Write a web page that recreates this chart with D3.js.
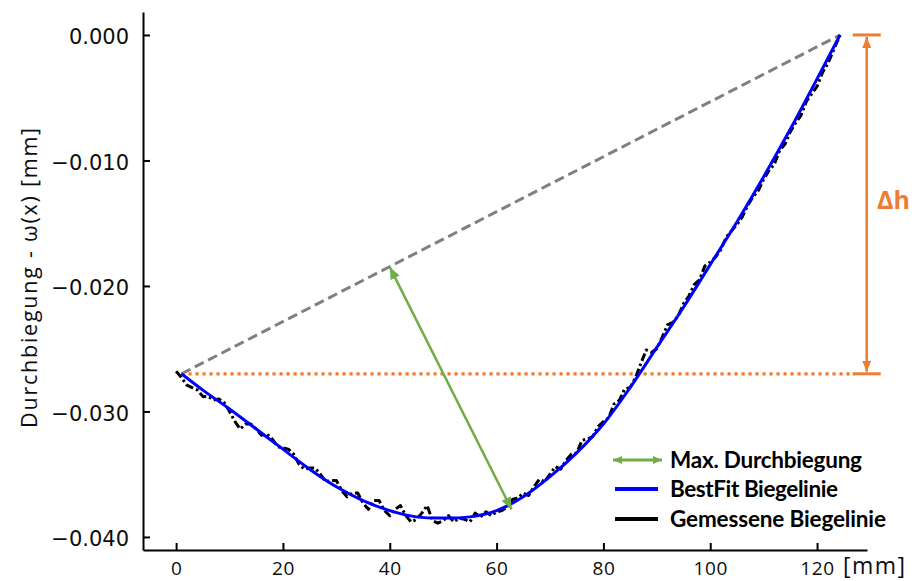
<!DOCTYPE html>
<html>
<head>
<meta charset="utf-8">
<script src="https://cdn.jsdelivr.net/npm/d3@7"></script>
<style>
  html, body { margin: 0; padding: 0; background: #fff; }
  svg { display: block; }
</style>
</head>
<body>
<svg id="chart" width="914" height="581"></svg>
<script>
// ---- data ----
const xTicks = [0, 20, 40, 60, 80, 100, 120];
const yTicks = [0, -0.01, -0.02, -0.03, -0.04];

// fitted deflection curve (mm, mm)
const bestFitX = [1, 5, 10, 15, 20, 25, 30, 35, 40, 45, 50, 55, 60, 65, 70, 75, 80, 85, 90, 95, 100, 105, 110, 115, 120, 124.3];
const bestFitY = [-0.0270, -0.0283, -0.0298, -0.0314, -0.0330, -0.0346, -0.0360, -0.0371, -0.0379, -0.0384, -0.0385, -0.0384, -0.0379, -0.0368, -0.0352, -0.0333, -0.0310, -0.0281, -0.0249, -0.0217, -0.0183, -0.0149, -0.0113, -0.0075, -0.0035, 0.0000];

// measured deflection line
const measuredX = [0,1,2,3,4,5,6,7,8,9,10,11,12,13,14,15,16,17,18,19,20,21,22,23,24,25,26,27,28,29,30,31,32,33,34,35,36,37,38,39,40,41,42,43,44,45,46,47,48,49,50,51,52,53,54,55,56,57,58,59,60,61,62,63,64,65,66,67,68,69,70,71,72,73,74,75,76,77,78,79,80,81,82,83,84,85,86,87,88,89,90,91,92,93,94,95,96,97,98,99,100,101,102,103,104,105,106,107,108,109,110,111,112,113,114,115,116,117,118,119,120,121,122,123,124,124.3];
const measuredY = [
  -0.0268, -0.0273, -0.0279, -0.0281, -0.0283, -0.0288, -0.0288, -0.0291, -0.0290, -0.0293,
  -0.0300, -0.0308, -0.0314, -0.0310, -0.0310, -0.0314, -0.0319, -0.0318, -0.0322, -0.0328,
  -0.0329, -0.0330, -0.0334, -0.0342, -0.0346, -0.0345, -0.0345, -0.0350, -0.0356, -0.0355,
  -0.0355, -0.0363, -0.0368, -0.0365, -0.0365, -0.0373, -0.0378, -0.0371, -0.0371, -0.0379,
  -0.0383, -0.0378, -0.0375, -0.0383, -0.0388, -0.0386, -0.0381, -0.0375, -0.0387, -0.0389,
  -0.0387, -0.0383, -0.0388, -0.0385, -0.0386, -0.0388, -0.0381, -0.0384, -0.0380, -0.0383,
  -0.0380, -0.0379, -0.0376, -0.0370, -0.0369, -0.0365, -0.0367, -0.0360, -0.0354, -0.0356,
  -0.0350, -0.0344, -0.0346, -0.0339, -0.0334, -0.0333, -0.0323, -0.0322, -0.0320, -0.0312,
  -0.0308, -0.0305, -0.0294, -0.0291, -0.0282, -0.0281, -0.0273, -0.0262, -0.0251, -0.0253,
  -0.0250, -0.0241, -0.0231, -0.0229, -0.0224, -0.0214, -0.0208, -0.0199, -0.0195, -0.0184,
  -0.0181, -0.0177, -0.0171, -0.0161, -0.0156, -0.0151, -0.0145, -0.0136, -0.0129, -0.0124,
  -0.0115, -0.0108, -0.0103, -0.0092, -0.0087, -0.0077, -0.0070, -0.0064, -0.0053, -0.0047,
  -0.0041, -0.0030, -0.0023, -0.0013, -0.0003, 0.0000
];

// support points (chord) and the max. deflection arrow
const chordStart = [1.0, -0.0270];
const chordEnd = [124.3, 0.0];
const maxDeflection = [[40.0, -0.0185], [62.8, -0.0378]];
const deltaX = 129.3;

const legendLabels = ["Max. Durchbiegung", "BestFit Biegelinie", "Gemessene Biegelinie"];
const xUnit = "[mm]";
const yTitle = "Durchbiegung - \u03c9(x) [mm]";
const deltaLabel = "\u0394h";

// ---- layout ----
const svg = d3.select("#chart");
const plotLeft = 143, plotRight = 867, plotTop = 12, plotBottom = 550;

const x = d3.scaleLinear().domain([-6.2, 129.35]).range([plotLeft, plotRight]);
const y = d3.scaleLinear().domain([-0.04104, 0.00183]).range([plotBottom, plotTop]);

const C = {
  blue: "#0000ff",
  black: "#000000",
  green: "#70ad47",
  orange: "#ed7d31",
  grey: "#808080",
  text: "#0d0d0d"
};

// arrow heads
const defs = svg.append("defs");
function head(id, color, len, wid) {
  defs.append("marker")
    .attr("id", id)
    .attr("markerUnits", "userSpaceOnUse")
    .attr("viewBox", `0 0 ${len} ${wid}`)
    .attr("refX", len).attr("refY", wid / 2)
    .attr("markerWidth", len).attr("markerHeight", wid)
    .attr("orient", "auto-start-reverse")
    .append("path")
    .attr("d", `M0,0 L${len},${wid / 2} L0,${wid} Z`)
    .attr("fill", color);
}
head("headGreen", C.green, 12, 10);
head("headOrange", C.orange, 11, 9);
head("headGreenSmall", C.green, 9, 8);

// ---- axes ----
const yAxis = d3.axisLeft(y)
  .tickValues(yTicks)
  .tickFormat(d3.format(".3f"))
  .tickSize(-7).tickSizeOuter(0).tickPadding(14);
const gy = svg.append("g").attr("transform", `translate(${plotLeft},0)`).call(yAxis);
gy.select(".domain").attr("stroke", C.black).attr("stroke-width", 2);
gy.selectAll(".tick line").attr("stroke", C.black).attr("stroke-width", 2);
gy.selectAll(".tick text")
  .attr("font-family", "'DejaVu Sans', sans-serif")
  .attr("font-size", 21)
  .attr("fill", C.text)
  .attr("dy", "0.42em");

const xAxis = d3.axisBottom(x)
  .tickValues(xTicks)
  .tickFormat(d3.format("d"))
  .tickSize(-7).tickSizeOuter(0).tickPadding(12);
const gx = svg.append("g").attr("transform", `translate(0,${plotBottom})`).call(xAxis);
gx.select(".domain").attr("stroke", C.black).attr("stroke-width", 2);
gx.selectAll(".tick line").attr("stroke", C.black).attr("stroke-width", 2);
gx.selectAll(".tick text")
  .attr("font-family", "'Open Sans', sans-serif")
  .attr("font-size", 19)
  .attr("letter-spacing", 0.6)
  .attr("fill", C.text);

// stretch a label to a given run length via letter spacing
function fitWidth(sel, target) {
  sel.each(function () {
    const n = this.textContent.length;
    const w = this.getComputedTextLength();
    d3.select(this).attr("letter-spacing", ((target - w) / Math.max(n - 1, 1)).toFixed(2));
  });
}

svg.append("text")
  .attr("x", 843).attr("y", 574)
  .attr("font-family", "'Open Sans', sans-serif")
  .attr("font-size", 23)
  .attr("fill", C.text)
  .text(xUnit)
  .call(fitWidth, 62);

svg.append("text")
  .attr("transform", "translate(28,277) rotate(-90)")
  .attr("text-anchor", "middle")
  .attr("dominant-baseline", "central")
  .attr("font-family", "'Open Sans', sans-serif")
  .attr("font-size", 21.5)
  .attr("fill", C.text)
  .text(yTitle)
  .call(fitWidth, 300);

// ---- reference lines ----
// chord between supports
svg.append("line")
  .attr("x1", x(chordStart[0])).attr("y1", y(chordStart[1]))
  .attr("x2", x(chordEnd[0])).attr("y2", y(chordEnd[1]))
  .attr("stroke", C.grey).attr("stroke-width", 3)
  .attr("stroke-dasharray", "10,5");

// horizontal level of the lower support
svg.append("line")
  .attr("x1", x(chordStart[0])).attr("y1", y(chordStart[1]))
  .attr("x2", x(deltaX) - 12).attr("y2", y(chordStart[1]))
  .attr("stroke", C.orange).attr("stroke-width", 3.2)
  .attr("stroke-dasharray", "3.2,3.8");

// height difference Δh
const capHalf = 14;
[chordEnd[1], chordStart[1]].forEach(v => {
  svg.append("line")
    .attr("x1", x(deltaX) - capHalf).attr("x2", x(deltaX) + capHalf)
    .attr("y1", y(v)).attr("y2", y(v))
    .attr("stroke", C.orange).attr("stroke-width", 3);
});
svg.append("line")
  .attr("x1", x(deltaX)).attr("x2", x(deltaX))
  .attr("y1", y(chordEnd[1]) + 2).attr("y2", y(chordStart[1]) - 2)
  .attr("stroke", C.orange).attr("stroke-width", 2.5)
  .attr("marker-start", "url(#headOrange)")
  .attr("marker-end", "url(#headOrange)");
svg.append("text")
  .attr("x", 877).attr("y", 209)
  .attr("font-family", "'Open Sans', sans-serif")
  .attr("font-weight", "bold")
  .attr("font-size", 25)
  .attr("fill", C.orange)
  .text(deltaLabel);

// ---- curves ----
const measured = measuredX.map((d, i) => [d, measuredY[i]]);
const bestFit = bestFitX.map((d, i) => [d, bestFitY[i]]);

svg.append("path")
  .datum(measured)
  .attr("d", d3.line().x(d => x(d[0])).y(d => y(d[1])))
  .attr("fill", "none")
  .attr("stroke", C.black).attr("stroke-width", 3)
  .attr("stroke-dasharray", "8,3,2.5,3")
  .attr("stroke-linejoin", "round");

svg.append("path")
  .datum(bestFit)
  .attr("d", d3.line().curve(d3.curveCatmullRom.alpha(0.5)).x(d => x(d[0])).y(d => y(d[1])))
  .attr("fill", "none")
  .attr("stroke", C.blue).attr("stroke-width", 3);

// max. deflection arrow
svg.append("line")
  .attr("x1", x(maxDeflection[0][0])).attr("y1", y(maxDeflection[0][1]))
  .attr("x2", x(maxDeflection[1][0])).attr("y2", y(maxDeflection[1][1]))
  .attr("stroke", C.green).attr("stroke-width", 2.5)
  .attr("marker-start", "url(#headGreen)")
  .attr("marker-end", "url(#headGreen)");

// ---- legend ----
const lg = svg.append("g").attr("transform", "translate(612,0)");
const rowY = [460, 489, 519];
lg.append("line")
  .attr("x1", 1).attr("x2", 50).attr("y1", rowY[0]).attr("y2", rowY[0])
  .attr("stroke", C.green).attr("stroke-width", 3)
  .attr("marker-start", "url(#headGreenSmall)")
  .attr("marker-end", "url(#headGreenSmall)");
lg.append("line")
  .attr("x1", 3).attr("x2", 46).attr("y1", rowY[1]).attr("y2", rowY[1])
  .attr("stroke", C.blue).attr("stroke-width", 4);
lg.append("line")
  .attr("x1", 3).attr("x2", 46).attr("y1", rowY[2]).attr("y2", rowY[2])
  .attr("stroke", C.black).attr("stroke-width", 4);

const legendWidths = [192, 168, 216];
legendLabels.forEach((t, i) => {
  lg.append("text")
    .attr("x", 58).attr("y", rowY[i] + 7.5)
    .attr("font-family", "Lato, 'Open Sans', sans-serif")
    .attr("font-weight", "bold")
    .attr("font-size", 22.5)
    .attr("fill", C.black)
    .text(t)
    .call(fitWidth, legendWidths[i]);
});
</script>
</body>
</html>
